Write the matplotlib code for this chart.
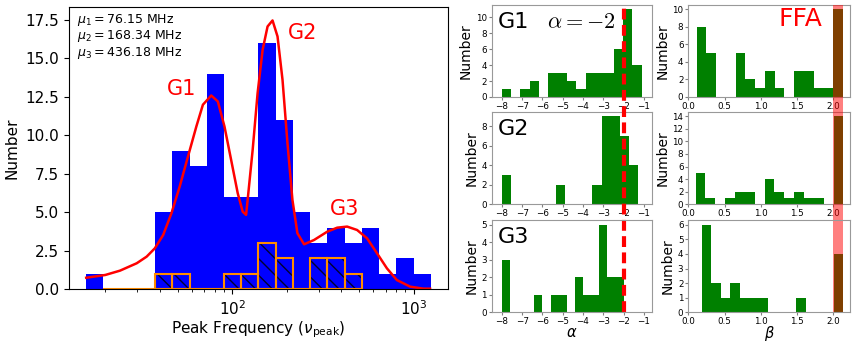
import numpy as np
import matplotlib
matplotlib.use("Agg")
from matplotlib import pyplot as plt
from matplotlib import transforms
from matplotlib.patches import Rectangle
from matplotlib.lines import Line2D
from matplotlib.ticker import MultipleLocator

# ---- left panel: peak frequency histogram (20 log bins) ----
nu_edges = np.logspace(1.196, 3.094, 21)
all_counts = [1, 0, 0, 0, 5, 9, 8, 14, 6, 6, 16, 11, 5, 3, 4, 3, 4, 1, 2, 1]
# hatched subset, bins 1..15
hatched_counts = [0, 0, 0, 1, 1, 0, 0, 1, 1, 3, 2, 0, 2, 2, 1]

# three-component fit
curve_nu = [15.7, 20.0, 24.1, 29.8, 33.8, 37.5, 41.7, 46.3, 51.4, 57.1, 63.5, 69.0,
            76.7, 83.4, 90.7, 98.7, 107.3, 114.3, 119.3, 121.7, 129.7, 138.1, 147.2,
            156.7, 166.9, 177.8, 189.4, 201.7, 214.8, 228.8, 249.0, 282.5, 334.1,
            379.0, 429.9, 487.7, 553.4, 627.9, 712.2, 807.9, 956.8, 1131.7, 1231.0]
curve_n = [0.75, 0.93, 1.21, 1.69, 2.12, 2.66, 3.53, 4.94, 6.67, 8.62, 10.57, 11.98,
           12.58, 12.19, 10.57, 8.40, 6.24, 5.04, 4.83, 5.80, 9.05, 12.74, 15.55,
           17.06, 17.45, 16.41, 13.60, 9.49, 5.80, 3.64, 2.92, 3.20, 3.74,
           4.00, 4.07, 3.85, 3.31, 2.34, 1.36, 0.60, 0.17, 0.04, 0.04]

mu_labels = [r"$\mu_1 = 76.15$ MHz", r"$\mu_2 = 168.34$ MHz", r"$\mu_3 = 436.18$ MHz"]

# ---- right panels: spectral index alpha and beta per group ----
groups = ["G1", "G2", "G3"]
alpha_edges = [np.linspace(-8.0, -1.1, 16), np.linspace(-8.0, -1.3, 16), np.linspace(-8.0, -2.0, 16)]
alpha_counts = [
    [1, 0, 1, 2, 0, 3, 3, 2, 1, 3, 3, 3, 6, 11, 4],
    [3, 0, 0, 0, 0, 0, 2, 0, 0, 0, 2, 9, 9, 7, 4],
    [3, 0, 0, 0, 1, 0, 1, 1, 0, 2, 1, 1, 5, 2, 2],
]
beta_edges = [np.linspace(0.115, 2.13, 16), np.linspace(0.10, 2.14, 16), np.linspace(0.19, 2.14, 16)]
beta_counts = [
    [8, 5, 0, 0, 5, 2, 1, 3, 1, 0, 3, 3, 1, 1, 10],
    [5, 1, 0, 1, 2, 2, 0, 4, 2, 1, 2, 1, 1, 0, 14],
    [6, 2, 1, 2, 1, 1, 1, 0, 0, 0, 1, 0, 0, 0, 4],
]
alpha_ystep = [2, 2, 1]
beta_ystep = [2, 2, 1]
ffa_band = (1.99, 2.14)
alpha_ffa = -2

fig = plt.figure(figsize=(8.6, 3.42), dpi=100)

ax = fig.add_axes([0.0802, 0.1541, 0.4407, 0.8254])
ax.set_xscale("log")
ax.stairs(all_counts, nu_edges, fill=True, color="blue")
w = np.diff(nu_edges)[1:16]
ax.bar(nu_edges[1:16], hatched_counts, width=w, align="edge", fill=False,
       hatch="\\\\", edgecolor="#000030", linewidth=0)
ax.bar(nu_edges[1:16], hatched_counts, width=w, align="edge", fill=False,
       edgecolor="darkorange", linewidth=1.5)
ax.plot(curve_nu, curve_n, color="red", lw=1.8)
ax.set_xlabel(r"Peak Frequency ($\nu_{\rm peak}$)", fontsize=11, labelpad=1)
ax.set_ylabel("Number", fontsize=11)
ax.tick_params(labelsize=11)
for i, s in enumerate(mu_labels):
    ax.text(0.022, 0.944 - 0.059 * i, s, transform=ax.transAxes, fontsize=9, va="baseline")
ax.text(43.5, 12.62, "G1", color="red", fontsize=15, va="baseline")
ax.text(204, 16.24, "G2", color="red", fontsize=15, va="baseline")
ax.text(346, 4.83, "G3", color="red", fontsize=15, va="baseline")

rows = [0.7164, 0.4029, 0.0863]
h = 0.270
a_axes, b_axes = [], []
for i in range(3):
    aa = fig.add_axes([0.5717, rows[i], 0.1864, h])
    aa.stairs(alpha_counts[i], alpha_edges[i], fill=True, color="green")
    aa.set_xlim(-8.5, -0.6)
    aa.xaxis.set_major_locator(MultipleLocator(1))
    aa.yaxis.set_major_locator(MultipleLocator(alpha_ystep[i]))
    aa.set_ylabel("Number", fontsize=10, labelpad=2)
    aa.text(0.035, 0.75, groups[i], transform=aa.transAxes, fontsize=16, va="baseline")
    if i == 0:
        aa.text(0.345, 0.75, r"$\alpha=-2$", transform=aa.transAxes, fontsize=16,
                va="baseline", math_fontfamily="cm")
    bb = fig.add_axes([0.8003, rows[i], 0.1881, h])
    bb.stairs(beta_counts[i], beta_edges[i], fill=True, color="green")
    bb.set_xlim(0, 2.23)
    bb.xaxis.set_major_locator(MultipleLocator(0.5))
    bb.yaxis.set_major_locator(MultipleLocator(beta_ystep[i]))
    bb.set_ylabel("Number", fontsize=10, labelpad=2)
    if i == 0:
        bb.text(0.557, 0.764, "FFA", color="red", transform=bb.transAxes, fontsize=18,
                va="baseline")
    for a in (aa, bb):
        a.tick_params(labelsize=6.3, length=2, pad=1.5, color="0.5")
        for sp in a.spines.values():
            sp.set_color("0.6")
    a_axes.append(aa)
    b_axes.append(bb)

a_axes[2].set_xlabel(r"$\alpha$", fontsize=10.5, labelpad=-1)
b_axes[2].set_xlabel(r"$\beta$", fontsize=10.5, labelpad=-2)

# dashed alpha = -2 line and FFA band running through all three rows
y_lo = rows[2]
y_hi = rows[0] + h
tr_a = transforms.blended_transform_factory(a_axes[2].transData, fig.transFigure)
a_axes[2].add_line(Line2D([alpha_ffa, alpha_ffa], [y_lo, y_hi], transform=tr_a, color="red",
                          lw=3, dashes=(2.6, 1.3), clip_on=False))
tr_b = transforms.blended_transform_factory(b_axes[2].transData, fig.transFigure)
b_axes[2].add_patch(Rectangle((ffa_band[0], y_lo), ffa_band[1] - ffa_band[0], y_hi - y_lo,
                              transform=tr_b, color="red", alpha=0.5, lw=0, clip_on=False))

fig.savefig("out.png", dpi=100)
